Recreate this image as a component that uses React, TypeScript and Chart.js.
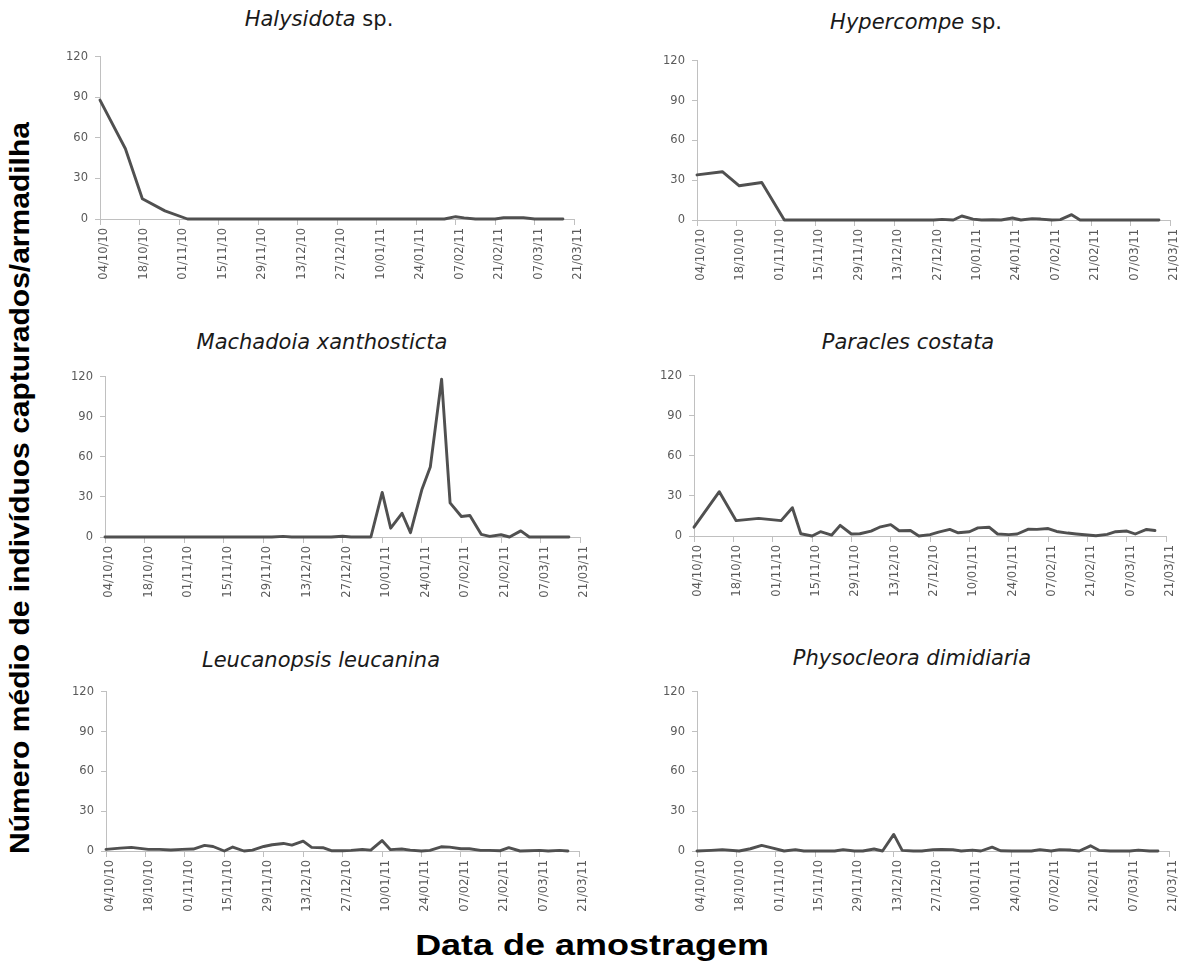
import React, { useEffect, useRef } from "react";
import { Chart, registerables } from "chart.js";

Chart.register(...registerables);

// Sampling dates, as days after 04/10/10
const sampleDays = [0, 5, 9, 15, 19, 23, 27, 31, 35, 38, 42, 45, 49, 52, 56, 59, 63, 66, 70, 73, 77, 80, 84, 87, 91, 94, 98, 101, 105, 108, 112, 115, 119, 122, 126, 129, 133, 136, 140, 143, 147, 150, 154, 157, 161, 164];

// x-axis tick labels (every 14 days)
const dateTickLabels = ["04/10/10", "18/10/10", "01/11/10", "15/11/10", "29/11/10", "13/12/10", "27/12/10", "10/01/11", "24/01/11", "07/02/11", "21/02/11", "07/03/11", "21/03/11"];
const tickStepDays = 14;
const yMaxValue = 120;
const yStepValue = 30;

// Mean number of individuals captured per trap (null = no distinct vertex read)
const halysidota = [88, null, 52, 15, null, 6, null, 0, 0, 0, 0, 0, 0, 0, 0, 0, 0, 0, 0, 0, 0, 0, 0, 0, 0, 0, 0, 0, 0, 0, 0, 0, 0, 0, 1.7, 0.8, 0, 0, 0, 1, 1, 1, 0, 0, 0, 0];
const hypercompe = [34, null, 36.4, 25.8, null, 28.3, null, 0, 0, 0, 0, 0, 0, 0, 0, 0, 0, 0, 0, 0, 0, 0, 0, 0.5, 0, 3, 0.7, 0, 0.2, 0, 1.5, 0, 1, 0.7, 0, 0.3, 4, 0, 0, 0, 0, 0, 0, 0, 0, 0];
const machadoia = [0, 0, 0, 0, 0, 0, 0, 0, 0, 0, 0, 0, 0, 0, 0, 0, 0.5, 0, 0, 0, 0, 0, 0.6, 0, 0, 0, 33.4, 6.6, 17.8, 3.2, 35.4, 52.4, 118.3, 25.6, 15.4, 16.1, 2, 0.5, 1.7, 0, 4.6, 0, 0, 0, 0, 0];
const paracles = [6.6, null, 33.2, 11.5, null, 13.2, null, 11.5, 21.2, 1.7, 0, 3.2, 0.7, 8, 1.5, 1.7, 3.7, 6.6, 8.5, 3.9, 4.1, 0, 1, 2.9, 4.9, 2.4, 3.2, 6.1, 6.6, 1.5, 1, 1.5, 5.1, 5, 5.6, 3.4, 2.2, 1.5, 0.7, 0.2, 1.2, 3.2, 3.7, 1.5, 4.9, 4.1];
const leucanopsis = [1.2, 2.2, 2.7, 1.2, 1.2, 0.7, 1.2, 1.5, 4.2, 3.4, 0, 3, 0, 0.7, 3.4, 4.7, 5.7, 4.4, 7.4, 2.7, 2.5, 0.2, 0.2, 0.5, 1.2, 0.7, 7.9, 1, 1.5, 0.7, 0, 0.5, 3.2, 2.9, 1.7, 1.7, 0.5, 0.5, 0.2, 2.5, 0, 0.2, 0.5, 0, 0.5, 0];
const physocleora = [0, 0.5, 1, 0, 1.7, 4.2, 2.2, 0, 1, 0, 0, 0, 0, 1, 0, 0, 1.5, 0, 12.5, 0.5, 0, 0, 1, 1.2, 1, 0, 0.7, 0, 2.9, 0.2, 0, 0, 0, 1, 0, 1, 0.7, 0, 3.9, 0.5, 0, 0, 0, 0.7, 0, 0];

const yAxisTitle = "Número médio de indivíduos capturados/armadilha";
const xAxisTitle = "Data de amostragem";

type PanelSpec = {
  italic: string;
  plain: string;
  values: (number | null)[];
  x0: number;
  x1: number;
  yT: number;
  yB: number;
  titleCx: number;
  titleCapTop: number;
};

const panels: PanelSpec[] = [
  { italic: "Halysidota", plain: " sp.", values: halysidota, x0: 100, x1: 575, yT: 53, yB: 219, titleCx: 319, titleCapTop: 11 },
  { italic: "Hypercompe", plain: " sp.", values: hypercompe, x0: 697, x1: 1171, yT: 57, yB: 220, titleCx: 916, titleCapTop: 14 },
  { italic: "Machadoia xanthosticta", plain: "", values: machadoia, x0: 105, x1: 581, yT: 373, yB: 537, titleCx: 322, titleCapTop: 334 },
  { italic: "Paracles costata", plain: "", values: paracles, x0: 694, x1: 1167, yT: 372, yB: 536, titleCx: 908, titleCapTop: 334 },
  { italic: "Leucanopsis leucanina", plain: "", values: leucanopsis, x0: 106, x1: 580, yT: 688, yB: 851, titleCx: 321, titleCapTop: 652 },
  { italic: "Physocleora dimidiaria", plain: "", values: physocleora, x0: 697, x1: 1170, yT: 688, yB: 851, titleCx: 912, titleCapTop: 650 },
];

const AXIS_W = 45;
const AXIS_H = 75;
const PAD_T = 10;
const PAD_R = 16;
const AXIS_COLOR = "#c0c0c0";
const TICK_COLOR = "#5a5a5a";
const LINE_COLOR = "#505050";
const TICK_FONT = { family: "'DejaVu Sans', sans-serif", size: 11.5 };

function Panel({ spec }: { spec: PanelSpec }) {
  const ref = useRef<HTMLCanvasElement | null>(null);
  const left = spec.x0 - AXIS_W;
  const top = spec.yT - PAD_T;
  const width = spec.x1 - left + PAD_R;
  const height = spec.yB - top + AXIS_H;

  useEffect(() => {
    if (!ref.current) return;
    const points = sampleDays
      .map((d, i) => ({ x: d, y: spec.values[i] }))
      .filter((p) => p.y !== null && p.y !== undefined) as { x: number; y: number }[];
    const chart = new Chart(ref.current, {
      type: "line",
      data: {
        datasets: [
          {
            data: points,
            borderColor: LINE_COLOR,
            borderWidth: 2.9,
            pointRadius: 0,
            pointHoverRadius: 0,
            tension: 0,
            fill: false,
            clip: false,
            borderJoinStyle: "round",
            borderCapStyle: "round",
          } as any,
        ],
      },
      options: {
        responsive: false,
        animation: false,
        devicePixelRatio: 1,
        events: [],
        layout: { padding: { top: PAD_T, right: PAD_R, left: 0, bottom: 0 } },
        plugins: {
          legend: { display: false },
          tooltip: { enabled: false },
          title: { display: false },
        },
        scales: {
          x: {
            type: "linear",
            min: 0,
            max: tickStepDays * (dateTickLabels.length - 1),
            afterFit: (s: any) => {
              s.height = AXIS_H;
            },
            ticks: {
              stepSize: tickStepDays,
              autoSkip: false,
              minRotation: 90,
              maxRotation: 90,
              padding: 3,
              labelOffset: 4,
              color: TICK_COLOR,
              font: TICK_FONT,
              callback: (v: any) => dateTickLabels[Math.round(Number(v) / tickStepDays)] ?? "",
            },
            grid: { drawOnChartArea: false, drawTicks: true, tickLength: 6, color: AXIS_COLOR },
            border: { display: true, color: AXIS_COLOR, width: 1 },
          },
          y: {
            min: 0,
            max: yMaxValue,
            afterFit: (s: any) => {
              s.width = AXIS_W;
            },
            ticks: {
              stepSize: yStepValue,
              padding: 7,
              color: TICK_COLOR,
              font: TICK_FONT,
            },
            grid: { drawOnChartArea: false, drawTicks: true, tickLength: 5, color: AXIS_COLOR },
            border: { display: true, color: AXIS_COLOR, width: 1 },
          },
        },
      } as any,
    });
    return () => chart.destroy();
  }, [spec]);

  const titleSize = 21;
  const capOffset = titleSize * (0.846 - 0.729);

  return (
    <>
      <canvas
        ref={ref}
        width={width}
        height={height}
        style={{ position: "absolute", left, top, width, height }}
      />
      <div
        style={{
          position: "absolute",
          left: spec.titleCx,
          top: spec.titleCapTop - capOffset,
          transform: "translateX(-50%)",
          fontFamily: "'DejaVu Sans', sans-serif",
          fontSize: titleSize,
          lineHeight: 1,
          whiteSpace: "nowrap",
          color: "#1a1a1a",
        }}
      >
        <i>{spec.italic}</i>
        {spec.plain}
      </div>
    </>
  );
}

export default function App() {
  return (
    <div
      style={{
        position: "absolute",
        left: 0,
        top: 0,
        width: 1181,
        height: 964,
        background: "#ffffff",
        overflow: "hidden",
      }}
    >
      {panels.map((p) => (
        <Panel key={p.italic} spec={p} />
      ))}
      <div
        style={{
          position: "absolute",
          left: 20,
          top: 488,
          transform: "translate(-50%, -50%) rotate(-90deg) scaleY(0.92)",
          fontFamily: "'Liberation Sans', Arial, sans-serif",
          fontWeight: "bold",
          fontSize: 30,
          lineHeight: 1,
          whiteSpace: "nowrap",
          color: "#000",
        }}
      >
        {yAxisTitle}
      </div>
      <div
        style={{
          position: "absolute",
          left: 592,
          top: 931,
          transform: "translateX(-50%) scaleX(1.24)",
          fontFamily: "'Liberation Sans', Arial, sans-serif",
          fontWeight: "bold",
          fontSize: 29,
          lineHeight: 1,
          whiteSpace: "nowrap",
          color: "#000",
        }}
      >
        {xAxisTitle}
      </div>
    </div>
  );
}
